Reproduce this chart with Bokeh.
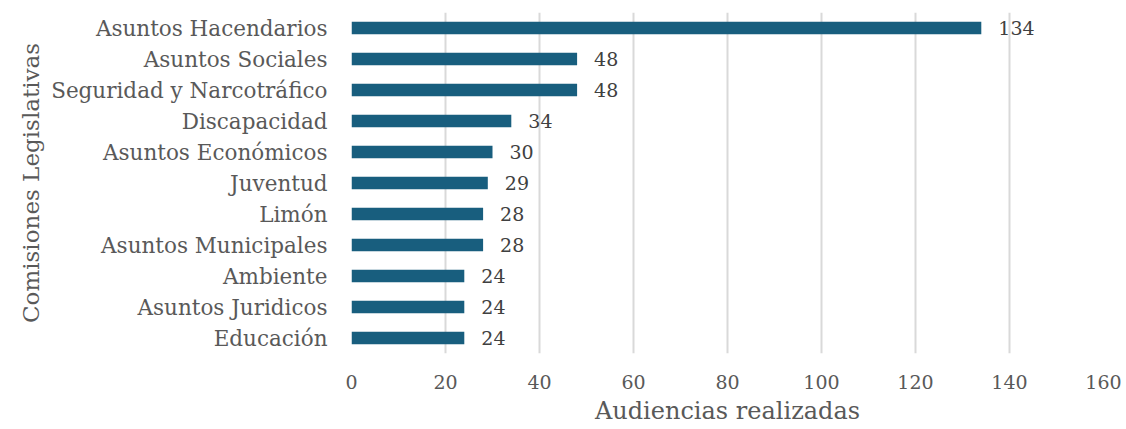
from bokeh.plotting import figure
from bokeh.models import ColumnDataSource, Range1d, FixedTicker, LabelSet, Title
from bokeh.core.properties import value
from bokeh.embed import file_html
from bokeh.resources import INLINE

categories = ["Asuntos Hacendarios", "Asuntos Sociales", "Seguridad y Narcotráfico",
              "Discapacidad", "Asuntos Económicos", "Juventud", "Limón",
              "Asuntos Municipales", "Ambiente", "Asuntos Juridicos", "Educación"]
values = [134, 48, 48, 34, 30, 29, 28, 28, 24, 24, 24]
x_ticks = [0, 20, 40, 60, 80, 100, 120, 140, 160]
x_title = "Audiencias realizadas"
y_title = "Comisiones Legislativas"

FONT = "DejaVu Serif"

src = ColumnDataSource(dict(cat=categories, val=values, lbl=[str(v) for v in values]))

p = figure(width=1126, height=429, y_range=list(reversed(categories)),
           x_range=Range1d(0, 160), output_backend="svg", toolbar_location=None)
p.min_border_left = 351
p.min_border_right = 23
p.min_border_top = 12
p.min_border_bottom = 76
p.outline_line_color = None

p.hbar(y="cat", right="val", left=0, height=0.4, source=src,
       fill_color="#185E7E", line_color=None)

labels = LabelSet(x="val", y="cat", text="lbl", source=src, x_offset=17,
                  text_baseline="middle", text_font=value(FONT),
                  text_font_size="19px", text_color="#404040")
p.add_layout(labels)

p.xaxis.ticker = FixedTicker(ticks=x_ticks)
p.xgrid.ticker = FixedTicker(ticks=x_ticks)
p.xgrid.grid_line_color = "#D9D9D9"
p.xgrid.grid_line_width = 2
p.ygrid.grid_line_color = None

for ax in (p.xaxis, p.yaxis):
    ax.axis_line_color = None
    ax.major_tick_line_color = None
    ax.minor_tick_line_color = None
    ax.major_label_text_font = FONT
    ax.major_label_text_color = "#595959"
    ax.axis_label_text_font = FONT
    ax.axis_label_text_color = "#595959"
    ax.axis_label_text_font_style = "normal"

p.yaxis.axis_label_text_font_size = "23px"
p.xaxis.major_label_text_font_size = "19px"
p.yaxis.major_label_text_font_size = "21.5px"
p.yaxis.axis_label = y_title
p.xaxis.major_label_standoff = 15
p.yaxis.major_label_standoff = 18
p.yaxis.axis_label_standoff = 4

xlab = Title(text=x_title, align="center", text_font=FONT, text_font_size="24px",
             text_font_style="normal", text_color="#595959", standoff=7)
p.add_layout(xlab, "below")

open("out.html", "w").write(file_html(p, INLINE))
